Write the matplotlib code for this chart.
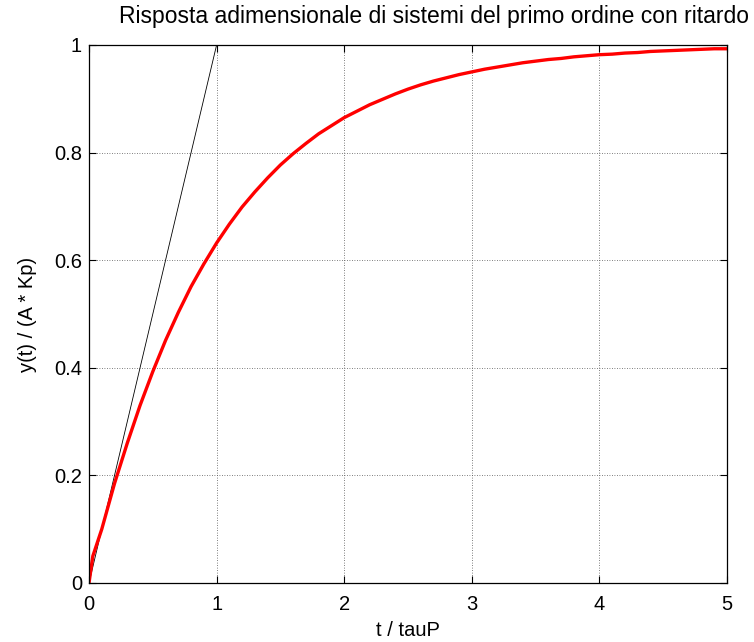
import matplotlib
matplotlib.use('Agg')
import matplotlib.pyplot as plt

plt.rcParams['font.family'] = ['Liberation Sans', 'DejaVu Sans']

# tempo adimensionale e risposta
t_norm = [0.0, 0.03, 0.1, 0.2, 0.3, 0.4, 0.5, 0.6, 0.7, 0.8, 0.9,
          1.0, 1.1, 1.2, 1.3, 1.4, 1.5, 1.6, 1.7, 1.8, 1.9,
          2.0, 2.1, 2.2, 2.3, 2.4, 2.5, 2.6, 2.7, 2.8, 2.9,
          3.0, 3.1, 3.2, 3.3, 3.4, 3.5, 3.6, 3.7, 3.8, 3.9,
          4.0, 4.1, 4.2, 4.3, 4.4, 4.5, 4.6, 4.7, 4.8, 4.9, 5.0]
y_norm = [0.0, 0.05, 0.10, 0.185, 0.26, 0.33, 0.393, 0.451, 0.503, 0.551, 0.593,
          0.632, 0.667, 0.699, 0.727, 0.753, 0.777, 0.798, 0.817, 0.835, 0.850,
          0.865, 0.877, 0.889, 0.899, 0.909, 0.918, 0.926, 0.933, 0.939, 0.945,
          0.950, 0.955, 0.959, 0.963, 0.967, 0.970, 0.973, 0.975, 0.978, 0.980,
          0.982, 0.983, 0.985, 0.986, 0.988, 0.989, 0.990, 0.991, 0.992, 0.993, 0.993]

# retta tangente nell'origine
tang_t = [0.0, 1.0]
tang_y = [0.0, 1.0]

x_ticks = [0, 1, 2, 3, 4, 5]
y_ticks = [0, 0.2, 0.4, 0.6, 0.8, 1]
y_ticklabels = ['0', '0.2', '0.4', '0.6', '0.8', '1']

fig = plt.figure(figsize=(7.54, 6.42), dpi=100)
ax = fig.add_axes([89 / 754, 59 / 642, 638 / 754, 538 / 642])

ax.plot(tang_t, tang_y, color='black', lw=0.6)
ax.plot(t_norm, y_norm, color='red', lw=2.4)

ax.set_xlim(0, 5)
ax.set_ylim(0, 1)
ax.set_xticks(x_ticks)
ax.set_yticks(y_ticks)
ax.set_yticklabels(y_ticklabels)
ax.tick_params(direction='in', length=5, labelsize=14.5, top=True, right=True,
               width=0.8)
ax.tick_params(axis='x', pad=9)
ax.tick_params(axis='y', pad=5)
ax.grid(True, color='#555555', linestyle=(0, (1, 2)), lw=0.6)
for s in ax.spines.values():
    s.set_linewidth(0.9)

ax.set_xlabel('t / tauP', fontsize=14.5, labelpad=5)
ax.set_ylabel('y(t) / (A * Kp)', fontsize=14.5, labelpad=12)
fig.text(434 / 754, 1 - 17 / 642, 'Risposta adimensionale di sistemi del primo ordine con ritardo',
         ha='center', va='center', fontsize=16.5)

fig.savefig('out.png', dpi=100)
